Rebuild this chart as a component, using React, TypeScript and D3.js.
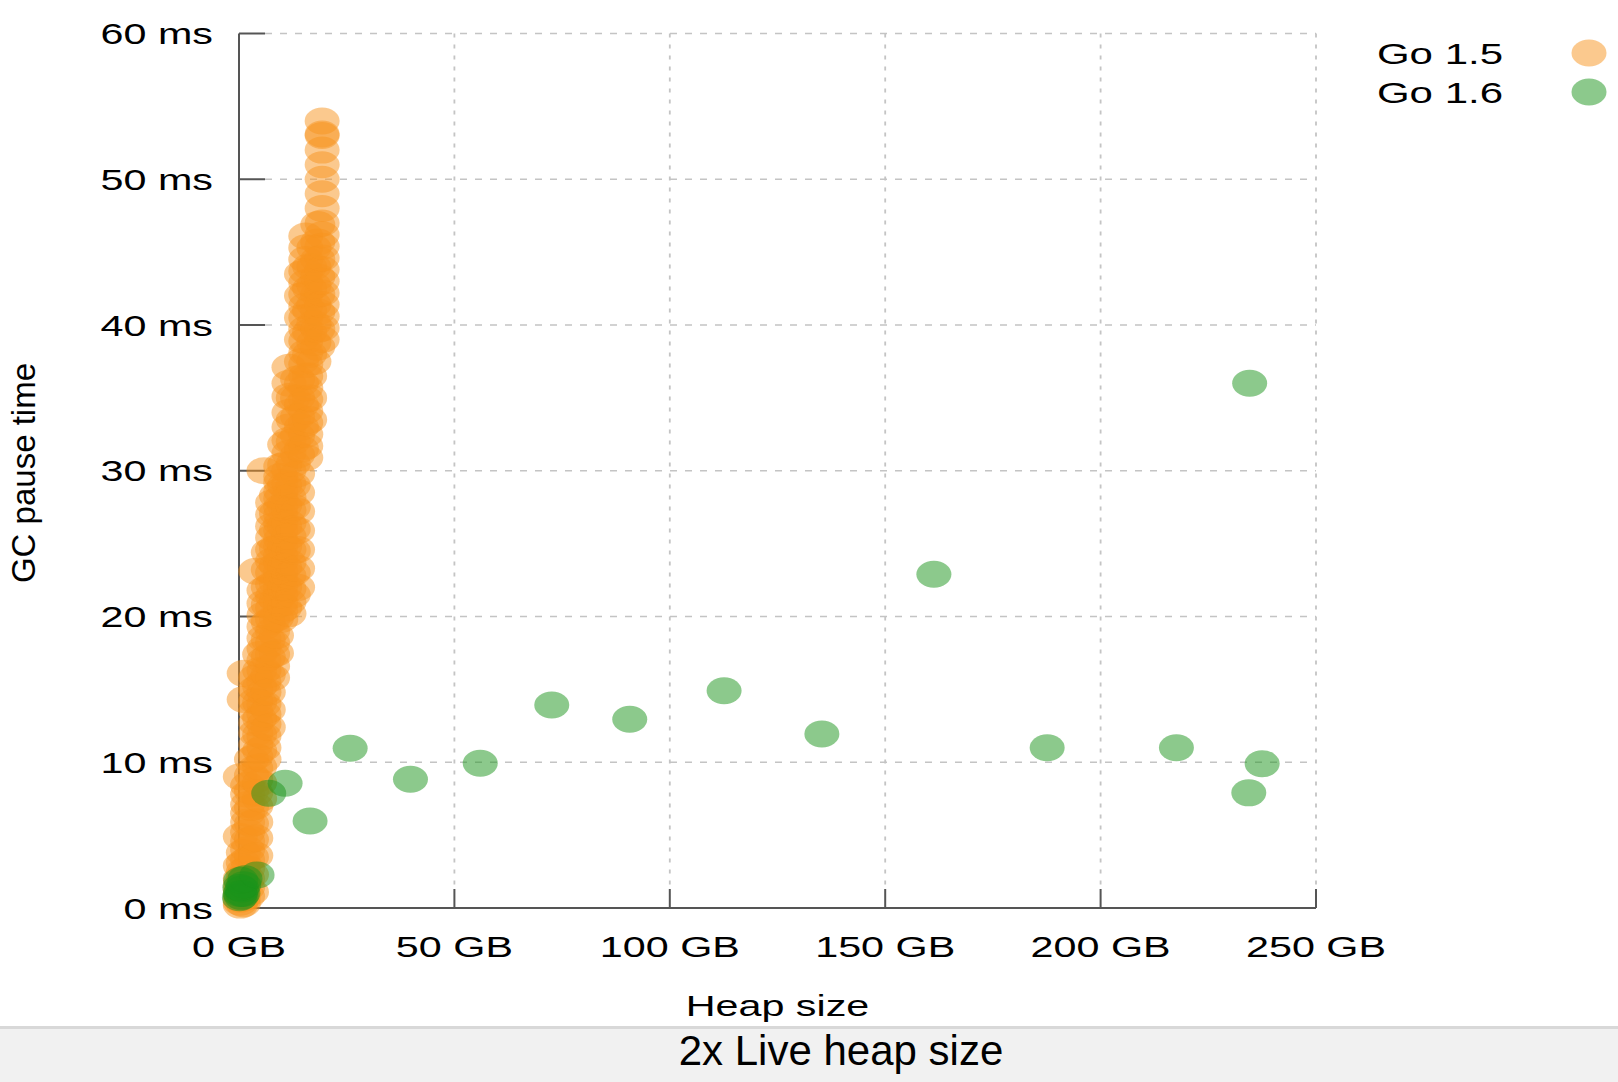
import { useEffect, useRef } from "react";
import * as d3 from "d3";

const X_TICKS = [0, 50, 100, 150, 200, 250];
const Y_TICKS = [0, 10, 20, 30, 40, 50, 60];

// Go 1.5: pauses grouped by heap size (GB), pause values in ms
const GO15_HEAP = [0.3, 1.0, 1.2, 2.0, 2.9, 3.9, 4.8, 5.8, 6.8, 7.8, 8.7, 9.7, 10.6, 11.6, 12.6, 13.6, 14.5, 15.5, 16.4, 17.4, 18.3, 19.3];
const GO15_PAUSES = [
  [0.2, 0.4, 0.6, 0.9, 1.2, 1.6, 2.0, 2.9, 4.9, 9.0],
  [0.3, 0.7, 1.1, 1.5, 2.0, 2.5, 3.1, 3.8],
  [14.3, 16.1],
  [0.8, 1.4, 2.0, 2.7, 3.3, 4.0, 4.6, 5.2, 5.9, 6.5, 7.1, 7.8, 8.4],
  [1.1, 2.3, 3.5, 4.7, 5.8, 6.9, 8.0, 9.1, 10.2],
  [3.6, 4.8, 5.9, 7.0, 7.9, 8.8, 9.6, 10.4, 11.2, 12.0, 12.7, 13.5, 14.2, 15.0, 15.8, 23.1],
  [7.5, 8.6, 9.7, 10.8, 11.9, 13.0, 14.1, 15.2, 16.3, 17.4],
  [10.2, 11.0, 11.8, 12.6, 13.3, 14.0, 14.8, 15.5, 16.3, 17.0, 17.8, 18.5, 19.3, 20.1, 20.9, 21.8, 30.0],
  [12.4, 13.6, 14.8, 16.0, 17.2, 18.4, 19.6, 20.8, 22.0, 23.2, 24.4],
  [15.8, 16.6, 17.4, 18.2, 19.0, 19.8, 20.6, 21.4, 22.2, 23.0, 23.8, 24.6, 25.4, 26.2, 27.0, 27.8],
  [17.5, 18.7, 19.9, 21.1, 22.3, 23.5, 24.7, 25.9, 27.1, 28.3],
  [19.8, 20.4, 20.9, 21.5, 22.0, 22.6, 23.1, 23.7, 24.2, 24.8, 25.3, 25.9, 26.4, 27.0, 27.5, 28.1, 28.6, 29.2, 29.6, 30.3],
  [20.6, 22.0, 23.4, 24.8, 26.2, 27.6, 29.0, 30.4, 31.8],
  [20.2, 21.0, 21.9, 22.8, 23.7, 24.6, 25.5, 26.4, 27.3, 28.2, 29.1, 30.0, 31.2, 32.1, 33.0, 34.0, 35.1, 36.0, 37.1],
  [21.5, 23.0, 24.5, 26.0, 27.5, 29.0, 30.5, 32.0, 33.5, 35.0],
  [22.0, 23.3, 24.6, 25.9, 27.2, 28.5, 29.8, 31.1, 32.4, 33.7, 35.0, 36.3],
  [31.5, 33.0, 34.5, 36.0, 37.5, 39.0, 40.5, 42.0, 43.5],
  [30.9, 31.7, 32.5, 33.3, 34.1, 34.9, 35.7, 36.5, 37.3, 38.1, 38.9, 39.7, 40.5, 41.3, 42.1, 42.9, 43.7, 44.5, 45.3, 46.1],
  [33.5, 35.0, 36.5, 38.0, 39.5, 41.0, 42.5, 44.0],
  [37.5, 38.8, 40.1, 41.4, 42.7, 44.0, 45.3],
  [38.5, 39.7, 40.9, 42.1, 43.3, 44.5, 45.7, 46.9],
  [39.0, 39.8, 40.6, 41.4, 42.2, 43.0, 43.8, 44.6, 45.4, 46.2, 47.0, 48.0, 49.0, 50.0, 51.0, 52.0, 53.0, 53.1, 54.0],
];

// Go 1.6: one pause per point
const GO16_HEAP = [0.1, 0.3, 0.5, 0.7, 0.9, 1.1, 0.4, 1.4, 0.2, 4.2, 6.9, 10.7, 16.5, 25.8, 39.8, 56.0, 72.6, 90.7, 112.6, 135.3, 161.3, 187.6, 217.6, 234.6, 237.5, 234.4];
const GO16_PAUSE = [0.7, 1.0, 0.8, 1.3, 1.0, 1.6, 1.9, 2.0, 1.4, 2.26, 7.87, 8.56, 5.97, 10.96, 8.83, 9.93, 13.93, 12.95, 14.91, 11.94, 22.9, 11.0, 11.0, 36.0, 9.9, 7.9];

const SERIES = [
  { name: "Go 1.5", color: "#f7931e" },
  { name: "Go 1.6", color: "#1a931a" },
];

const FONT = "'Liberation Sans', Arial, Helvetica, sans-serif";
const STRETCH = 1.4; // the plot area is stretched sideways in the original
const RX = 17.5;
const RY = 13.5;

export default function App() {
  const svgRef = useRef<SVGSVGElement>(null);

  useEffect(() => {
    if (!svgRef.current) return;
    const width = 1618;
    const height = 1082;

    const svg = d3.select(svgRef.current);
    svg.selectAll("*").remove();
    svg.attr("width", width).attr("height", height);

    const x = d3.scaleLinear().domain([0, 250]).range([239, 1316]);
    const y = d3.scaleLinear().domain([0, 60]).range([908, 33.5]);

    // Grid
    svg.append("g")
      .selectAll("line")
      .data(Y_TICKS.slice(1))
      .join("line")
      .attr("x1", x(0) + 26)
      .attr("x2", x(250))
      .attr("y1", (d) => y(d))
      .attr("y2", (d) => y(d))
      .attr("stroke", "#c4c4c4")
      .attr("stroke-width", 1.6)
      .attr("stroke-dasharray", "7,8");

    svg.append("g")
      .selectAll("line")
      .data(X_TICKS.slice(1))
      .join("line")
      .attr("x1", (d) => x(d))
      .attr("x2", (d) => x(d))
      .attr("y1", y(60))
      .attr("y2", y(0) - 19)
      .attr("stroke", "#c4c4c4")
      .attr("stroke-width", 1.8)
      .attr("stroke-dasharray", "4,7");

    // Axes
    const axis = svg.append("g").attr("stroke", "#555").attr("stroke-width", 2).attr("fill", "none");
    axis.append("path").attr("d", `M${x(0)},${y(60)}V${y(0)}H${x(250)}`);
    axis.selectAll("line.yt")
      .data(Y_TICKS)
      .join("line")
      .attr("class", "yt")
      .attr("x1", x(0))
      .attr("x2", x(0) + 26)
      .attr("y1", (d) => y(d))
      .attr("y2", (d) => y(d));
    axis.selectAll("line.xt")
      .data(X_TICKS)
      .join("line")
      .attr("class", "xt")
      .attr("x1", (d) => x(d))
      .attr("x2", (d) => x(d))
      .attr("y1", y(0))
      .attr("y2", y(0) - 19);

    // Tick labels
    svg.append("g")
      .selectAll("text")
      .data(Y_TICKS)
      .join("text")
      .attr("transform", (d) => `translate(213,${y(d) + 10.5}) scale(${STRETCH},1)`)
      .attr("text-anchor", "end")
      .style("font-family", FONT)
      .style("font-size", "29.5px")
      .attr("fill", "#000")
      .text((d) => `${d} ms`);

    svg.append("g")
      .selectAll("text")
      .data(X_TICKS)
      .join("text")
      .attr("transform", (d) => `translate(${x(d)},957) scale(${STRETCH},1)`)
      .attr("text-anchor", "middle")
      .style("font-family", FONT)
      .style("font-size", "29.5px")
      .attr("fill", "#000")
      .text((d) => `${d} GB`);

    // Axis titles
    svg.append("text")
      .attr("transform", `translate(${(x(0) + x(250)) / 2},1015.5) scale(${STRETCH},1)`)
      .attr("text-anchor", "middle")
      .style("font-family", FONT)
      .style("font-size", "29.5px")
      .text("Heap size");

    svg.append("text")
      .attr("transform", "translate(35,473) rotate(-90)")
      .attr("text-anchor", "middle")
      .style("font-family", FONT)
      .style("font-size", "33px")
      .text("GC pause time");

    // Points
    const go15 = GO15_HEAP.flatMap((h, i) => GO15_PAUSES[i].map((p) => [h, p]));
    const go16 = GO16_HEAP.map((h, i) => [h, GO16_PAUSE[i]]);

    [go15, go16].forEach((pts, si) => {
      svg.append("g")
        .selectAll("ellipse")
        .data(pts)
        .join("ellipse")
        .attr("cx", (d) => x(d[0]))
        .attr("cy", (d) => y(d[1]))
        .attr("rx", RX)
        .attr("ry", RY)
        .attr("fill", SERIES[si].color)
        .attr("fill-opacity", 0.5);
    });

    // Legend
    const legend = svg.append("g");
    SERIES.forEach((s, i) => {
      const cy = 53 + i * 39;
      legend.append("text")
        .attr("transform", `translate(1503,${cy + 10.5}) scale(${STRETCH},1)`)
        .attr("text-anchor", "end")
        .style("font-family", FONT)
        .style("font-size", "30px")
        .text(s.name);
      legend.append("ellipse")
        .attr("cx", 1589)
        .attr("cy", cy)
        .attr("rx", RX)
        .attr("ry", RY)
        .attr("fill", s.color)
        .attr("fill-opacity", 0.5);
    });

    // Caption band
    svg.append("rect").attr("x", 0).attr("y", 1026).attr("width", width).attr("height", 3).attr("fill", "#d8d8d8");
    svg.append("rect").attr("x", 0).attr("y", 1029).attr("width", width).attr("height", height - 1029).attr("fill", "#f1f1f1");
    svg.append("text")
      .attr("x", 841)
      .attr("y", 1065)
      .attr("text-anchor", "middle")
      .style("font-family", FONT)
      .style("font-size", "42px")
      .text("2x Live heap size");
  }, []);

  return (
    <div style={{ position: "absolute", left: 0, top: 0, width: 1618, height: 1082, background: "#fff" }}>
      <svg ref={svgRef} style={{ display: "block" }} />
    </div>
  );
}
